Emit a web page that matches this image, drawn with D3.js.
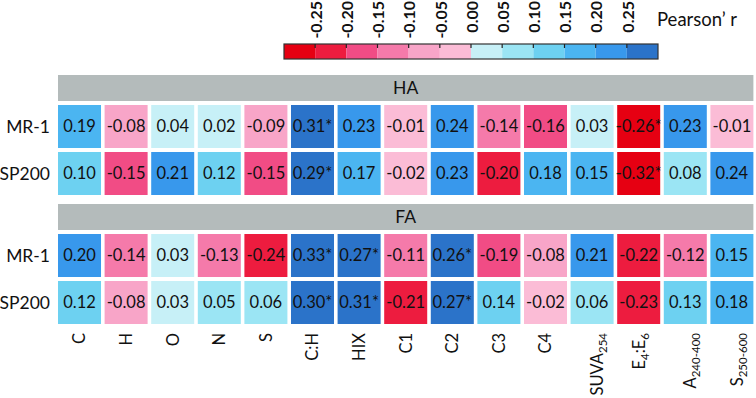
<!DOCTYPE html>
<html>
<head>
<meta charset="utf-8">
<script src="https://cdn.jsdelivr.net/npm/d3@7"></script>
<style>
    body { margin: 0; background: #fff; }
    svg { display: block; font-family: Lato, "Open Sans", sans-serif; }
</style>
</head>
<body>
<svg id="vis" width="756" height="398"></svg>
<script>
// column variables, "_" marks a subscript
var columns = ["C", "H", "O", "N", "S", "C:H", "HIX", "C1", "C2", "C3", "C4",
    "SUVA_254", "E_4:E_6", "A_240-400", "S_250-600"];
var groups = ["HA", "FA"];
var rows = ["MR-1", "SP200"];

var haMR1   = [0.19, -0.08, 0.04, 0.02, -0.09, 0.31, 0.23, -0.01, 0.24, -0.14, -0.16, 0.03, -0.26, 0.23, -0.01];
var haSP200 = [0.10, -0.15, 0.21, 0.12, -0.15, 0.29, 0.17, -0.02, 0.23, -0.20, 0.18, 0.15, -0.32, 0.08, 0.24];
var faMR1   = [0.20, -0.14, 0.03, -0.13, -0.24, 0.33, 0.27, -0.11, 0.26, -0.19, -0.08, 0.21, -0.22, -0.12, 0.15];
var faSP200 = [0.12, -0.08, 0.03, 0.05, 0.06, 0.30, 0.31, -0.21, 0.27, 0.14, -0.02, 0.06, -0.23, 0.13, 0.18];

// significant correlations (marked with *)
var haMR1Sig   = ["C:H", "E_4:E_6"];
var haSP200Sig = ["C:H", "E_4:E_6"];
var faMR1Sig   = ["C:H", "HIX", "C2"];
var faSP200Sig = ["C:H", "HIX", "C2"];

var legendTicks = [-0.25, -0.20, -0.15, -0.10, -0.05, 0.00, 0.05, 0.10, 0.15, 0.20, 0.25];
var legendColors = ["#e60012", "#ed1c3f", "#f14c85", "#f57aaa", "#f8a5c8", "#fbbcd6",
    "#c7f0f7", "#9be5f4", "#6dd1f1", "#4bb5f1", "#3898ec", "#2b73c9"];

var table = {
    "HA": { "MR-1": [haMR1, haMR1Sig], "SP200": [haSP200, haSP200Sig] },
    "FA": { "MR-1": [faMR1, faMR1Sig], "SP200": [faSP200, faSP200Sig] }
};

let svg = d3.select("svg#vis");

let cells = [];
groups.forEach(function(g) {
    rows.forEach(function(r) {
        let vals = table[g][r][0], sig = table[g][r][1];
        columns.forEach(function(c, i) {
            cells.push({ group: g, row: r, col: c, value: vals[i], star: sig.indexOf(c) >= 0 });
        });
    });
});

// values are binned away from zero, so -0.15 falls with -0.19 and 0.15 with 0.19
let thresholds = legendTicks.map(function(t) {
    let h = Math.round(t * 100);
    return h < 0 ? h + 1 : h;
});
let colorScale = d3.scaleThreshold()
    .domain(thresholds)
    .range(legendColors);

let xScale = d3.scaleBand()
    .domain(columns)
    .range([58, 753.4])
    .paddingInner(0.077);

let groupScale = d3.scalePoint()
    .domain(groups)
    .range([75, 204]);

let rowScale = d3.scaleBand()
    .domain(rows)
    .range([30, 120])
    .paddingInner(0.085);

let headerHeight = 26;

// group headers
let heads = svg.selectAll("g.head")
    .data(groups)
    .enter().append("g")
    .attr("class", "head");

heads.append("rect")
    .attr("x", xScale.range()[0])
    .attr("y", function(d) { return groupScale(d); })
    .attr("width", xScale.range()[1] - xScale.range()[0])
    .attr("height", headerHeight)
    .attr("fill", "#b4bbbb");

heads.append("text")
    .attr("x", (xScale.range()[0] + xScale.range()[1]) / 2)
    .attr("y", function(d) { return groupScale(d) + headerHeight / 2; })
    .attr("dy", "0.36em")
    .style("text-anchor", "middle")
    .style("font-size", "17.5px")
    .style("fill", "#111")
    .text(function(d) { return d; });

// row labels
groups.forEach(function(g) {
    svg.selectAll("text.row-" + g)
        .data(rows)
        .enter().append("text")
        .attr("class", "row-" + g)
        .attr("x", 50)
        .attr("y", function(d) { return groupScale(g) + rowScale(d) + rowScale.bandwidth() / 2; })
        .attr("dy", "0.36em")
        .style("text-anchor", "end")
        .style("font-size", "17.5px")
        .style("fill", "#111")
        .text(function(d) { return d; });
});

// heatmap cells
let cell = svg.selectAll("g.cell")
    .data(cells)
    .enter().append("g")
    .attr("class", "cell")
    .attr("transform", function(d) {
        return "translate(" + xScale(d.col) + "," + (groupScale(d.group) + rowScale(d.row)) + ")";
    });

cell.append("rect")
    .attr("width", xScale.bandwidth())
    .attr("height", rowScale.bandwidth())
    .attr("fill", function(d) { return colorScale(Math.round(d.value * 100)); });

cell.append("text")
    .attr("x", xScale.bandwidth() / 2)
    .attr("y", rowScale.bandwidth() / 2)
    .attr("dy", "0.36em")
    .style("text-anchor", "middle")
    .style("font-size", "16.5px")
    .style("fill", "#111")
    .text(function(d) { return d.value.toFixed(2) + (d.star ? "*" : ""); });

// column labels, rotated
let colLabels = svg.selectAll("text.col")
    .data(columns)
    .enter().append("text")
    .attr("class", "col")
    .attr("transform", function(d) {
        let shift = d.indexOf("_") >= 0 && d.indexOf(":") < 0 ? 5 : 0;
        return "translate(" + (xScale(d) + xScale.bandwidth() / 2 + shift) + ",333) rotate(-90)";
    })
    .attr("dy", "0.36em")
    .style("text-anchor", "end")
    .style("font-size", "16.5px")
    .style("fill", "#111");

colLabels.each(function(d) {
    let t = d3.select(this);
    let parts = d.split(/(_[0-9-]+)/).filter(function(p) { return p.length > 0; });
    let down = false;
    parts.forEach(function(p) {
        if (p[0] === "_") {
            t.append("tspan").attr("dy", 4).style("font-size", "11.5px").text(p.slice(1));
            down = true;
        } else {
            t.append("tspan").attr("dy", down ? -4 : null).text(p);
            down = false;
        }
    });
});

// legend
let legendScale = d3.scaleLinear()
    .domain([-0.30, 0.30])
    .range([284, 658]);
let legendTop = 44, legendHeight = 15;

svg.selectAll("rect.legend")
    .data(legendColors)
    .enter().append("rect")
    .attr("class", "legend")
    .attr("x", function(d, i) { return legendScale(-0.30 + i * 0.05); })
    .attr("y", legendTop)
    .attr("width", legendScale(0.05) - legendScale(0))
    .attr("height", legendHeight)
    .attr("fill", function(d) { return d; });

svg.append("rect")
    .attr("x", legendScale(-0.30))
    .attr("y", legendTop)
    .attr("width", legendScale(0.30) - legendScale(-0.30))
    .attr("height", legendHeight)
    .attr("fill", "none")
    .attr("stroke", "#333")
    .attr("stroke-width", 1.2);

svg.selectAll("line.tick")
    .data(legendTicks)
    .enter().append("line")
    .attr("class", "tick")
    .attr("x1", function(d) { return legendScale(d); })
    .attr("x2", function(d) { return legendScale(d); })
    .attr("y1", legendTop)
    .attr("y2", legendTop + 4)
    .attr("stroke", "#222")
    .attr("stroke-width", 1.2);

svg.selectAll("text.tick")
    .data(legendTicks)
    .enter().append("text")
    .attr("class", "tick")
    .attr("transform", function(d) { return "translate(" + (legendScale(d) + 1) + ",1) rotate(-90)"; })
    .attr("dy", "0.36em")
    .style("text-anchor", "end")
    .style("font-size", "16px")
    .style("font-weight", "bold")
    .style("fill", "#111")
    .text(function(d) { return d.toFixed(2); });

svg.append("text")
    .attr("x", 657)
    .attr("y", 26)
    .style("font-size", "18.5px")
    .style("fill", "#111")
    .text("Pearson\u2019 r");
</script>
</body>
</html>
